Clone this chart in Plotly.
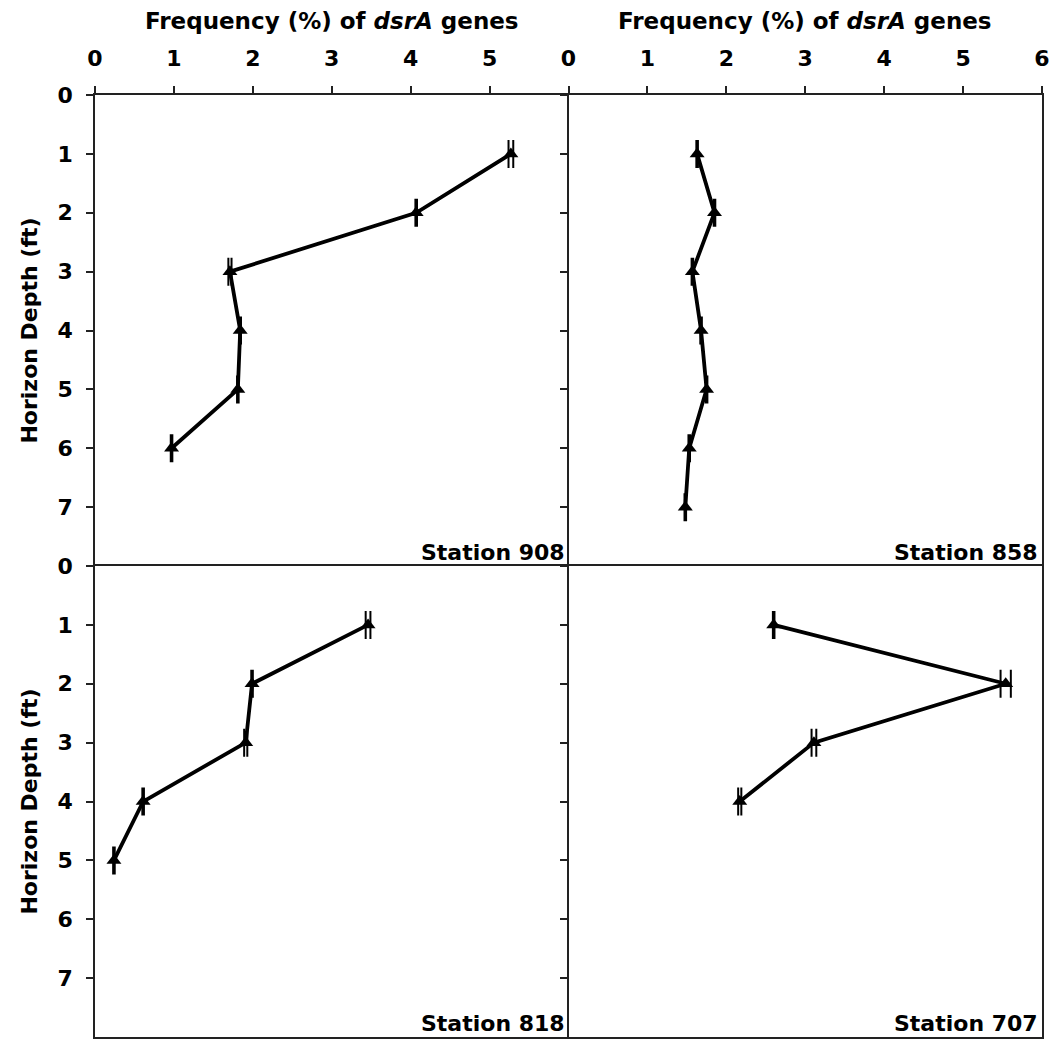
import plotly.graph_objects as go

# Depth horizons (ft) and dsrA gene frequencies (%) per station
depth_908 = [1, 2, 3, 4, 5, 6]
freq_908 = [5.27, 4.07, 1.71, 1.84, 1.81, 0.97]
err_908 = [0.03, 0.01, 0.02, 0.01, 0.01, 0.01]

depth_858 = [1, 2, 3, 4, 5, 6, 7]
freq_858 = [1.63, 1.85, 1.57, 1.68, 1.75, 1.53, 1.48]
err_858 = [0.01, 0.01, 0.01, 0.01, 0.01, 0.01, 0.01]

depth_818 = [1, 2, 3, 4, 5]
freq_818 = [3.46, 1.99, 1.91, 0.61, 0.24]
err_818 = [0.03, 0.01, 0.02, 0.01, 0.01]

depth_707 = [1, 2, 3, 4]
freq_707 = [2.60, 5.54, 3.11, 2.17]
err_707 = [0.01, 0.065, 0.03, 0.02]

stations = ["Station 908", "Station 858", "Station 818", "Station 707"]
x_ticks = [0, 1, 2, 3, 4, 5, 6]
y_ticks = [0, 1, 2, 3, 4, 5, 6, 7]

FONT = "DejaVu Sans, Arial, sans-serif"
AXIS_COLOR = "#222222"
panels = [
    (freq_908, depth_908, err_908, "x", "y"),
    (freq_858, depth_858, err_858, "x2", "y2"),
    (freq_818, depth_818, err_818, "x3", "y3"),
    (freq_707, depth_707, err_707, "x4", "y4"),
]

fig = go.Figure()
for xs, ys, es, xa, ya in panels:
    fig.add_trace(go.Scatter(
        x=xs, y=ys, xaxis=xa, yaxis=ya, mode="lines+markers",
        line=dict(color="black", width=3.8),
        marker=dict(symbol="triangle-up", size=13, color="black"),
        error_x=dict(type="data", array=es, visible=True, color="black",
                     thickness=2, width=14),
        showlegend=False, cliponaxis=False,
    ))

x_dom = [[0, 0.5], [0.5, 1.0], [0, 0.5], [0.5, 1.0]]
y_dom = [[0.5, 1.0], [0.5, 1.0], [0, 0.5], [0, 0.5]]
tickfont = dict(family=FONT, size=22, color="black", weight="bold")

layout = dict(
    width=1055, height=1040,
    margin=dict(l=95, r=13, t=95, b=1),
    paper_bgcolor="white", plot_bgcolor="white",
    font=dict(family=FONT, color="black"),
)
for i in range(4):
    sx = "" if i == 0 else str(i + 1)
    top = i < 2
    left = i % 2 == 0
    xvals = x_ticks[:-1] if (top and left) else x_ticks
    layout["xaxis" + sx] = dict(
        domain=x_dom[i], range=[0, 6], side="top",
        anchor="y" + sx,
        showline=True, linecolor=AXIS_COLOR, linewidth=1.5,
        mirror=not top,
        showgrid=False, zeroline=False,
        ticks="outside" if top else "", ticklen=7, tickcolor=AXIS_COLOR,
        tickwidth=1.5,
        tickvals=xvals if top else [], showticklabels=top,
        tickfont=tickfont, ticklabelstandoff=11,
    )
    layout["yaxis" + sx] = dict(
        domain=y_dom[i], range=[8, 0],
        anchor="x" + sx,
        showline=True, linecolor=AXIS_COLOR, linewidth=1.5,
        mirror=not left,
        showgrid=False, zeroline=False,
        ticks="outside", ticklen=7, tickcolor=AXIS_COLOR, tickwidth=1.5,
        tickvals=y_ticks, showticklabels=left,
        tickfont=tickfont, ticklabelstandoff=9,
    )
    if left:
        layout["yaxis" + sx]["title"] = dict(
            text="Horizon Depth (ft)", standoff=14,
            font=dict(family=FONT, size=22, color="black", weight="bold"))

fig.update_layout(**layout)

# column titles along the top edge
for cx in [0.25, 0.75]:
    fig.add_annotation(
        text="Frequency (%) of <i>dsrA</i> genes",
        xref="paper", yref="paper", x=cx, y=1.0, yshift=74,
        xanchor="center", yanchor="middle", showarrow=False,
        font=dict(family=FONT, size=23, color="black", weight="bold"),
    )

# station names in the lower-right corner of each panel
for i, name in enumerate(stations):
    sx = "" if i == 0 else str(i + 1)
    fig.add_annotation(
        text=name, xref="x" + sx, yref="y" + sx,
        x=6, y=8, xanchor="right", yanchor="bottom", xshift=-2, yshift=-1,
        showarrow=False,
        font=dict(family=FONT, size=22, color="black", weight="bold"),
    )

fig.write_html("out.html")
